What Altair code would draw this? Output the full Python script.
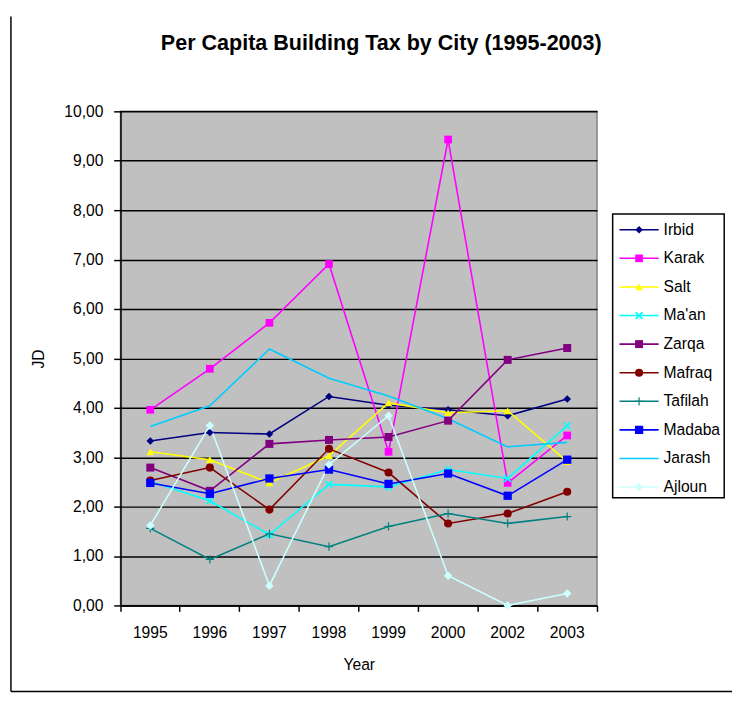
import altair as alt
import pandas as pd

years = ["1995", "1996", "1997", "1998", "1999", "2000", "2002", "2003"]
cities = ["Irbid", "Karak", "Salt", "Ma'an", "Zarqa", "Mafraq", "Tafilah", "Madaba", "Jarash", "Ajloun"]

irbid = [3.33, 3.50, 3.47, 4.23, 4.05, 3.96, 3.84, 4.18]
karak = [3.96, 4.79, 5.72, 6.91, 3.11, 9.43, 2.48, 3.44]
salt = [3.11, 2.95, 2.48, 3.03, 4.10, 3.90, 3.94, 2.91]
maan = [2.51, 2.12, 1.43, 2.45, 2.40, 2.75, 2.57, 3.64]
zarqa = [2.79, 2.32, 3.27, 3.35, 3.41, 3.74, 4.97, 5.21]
mafraq = [2.53, 2.79, 1.94, 3.17, 2.69, 1.66, 1.86, 2.30]
tafilah = [1.56, 0.93, 1.45, 1.19, 1.60, 1.86, 1.66, 1.80]
madaba = [2.48, 2.26, 2.57, 2.75, 2.46, 2.67, 2.22, 2.95]
jarash = [3.62, 4.04, 5.19, 4.60, 4.24, 3.78, 3.21, 3.30]
ajloun = [1.62, 3.64, 0.40, 2.85, 3.84, 0.60, 0.00, 0.24]

series = [irbid, karak, salt, maan, zarqa, mafraq, tafilah, madaba, jarash, ajloun]

# styles
colors = ["#000080", "#FF00FF", "#FFFF00", "#00FFFF", "#800080",
          "#800000", "#008080", "#0000FF", "#00CCFF", "#CCFFFF"]
X_PATH = "M-1,-0.7L-0.7,-1L0,-0.3L0.7,-1L1,-0.7L0.3,0L1,0.7L0.7,1L0,0.3L-0.7,1L-1,0.7L-0.3,0Z"
PLUS_PATH = ("M-0.15,-1L0.15,-1L0.15,-0.15L1,-0.15L1,0.15L0.15,0.15L0.15,1L-0.15,1"
             "L-0.15,0.15L-1,0.15L-1,-0.15L-0.15,-0.15Z")
shapes = ["diamond", "square", "triangle-up", X_PATH, "square",
          "circle", PLUS_PATH, "square", "circle", "diamond"]
sizes = [60, 75, 85, 45, 32, 80, 70, 14, 0, 60]

rows = []
for c, vals in zip(cities, series):
    for yr, v in zip(years, vals):
        rows.append({"City": c, "Year": yr, "Value": v})
df = pd.DataFrame(rows)
leg = pd.DataFrame({"City": cities})

FONT = "Liberation Sans"
W, H = 487, 505

color_enc = alt.Color("City:N", scale=alt.Scale(domain=cities, range=colors), legend=None)
shape_enc = alt.Shape("City:N", scale=alt.Scale(domain=cities, range=shapes), legend=None)
size_enc = alt.Size("City:N", scale=alt.Scale(domain=cities, range=sizes), legend=None)

x_enc = alt.X(
    "Year:O", sort=years,
    scale=alt.Scale(type="band", paddingInner=0, paddingOuter=0),
    axis=alt.Axis(title="Year", bandPosition=1, tickExtra=True,
                  labelAngle=0, grid=False, domainColor="black", domainWidth=1.5,
                  tickColor="black", tickWidth=1.5, tickSize=6, labelPadding=14,
                  labelFont=FONT, labelFontSize=16, labelColor="black",
                  titleFont=FONT, titleFontSize=16, titleFontWeight="normal",
                  titleColor="black", titlePadding=16),
)
y_enc = alt.Y(
    "Value:Q",
    scale=alt.Scale(domain=[0, 10], nice=False),
    axis=alt.Axis(title="JD", values=list(range(11)),
                  labelExpr="replace(format(datum.value, '.2f'), '.', ',')",
                  grid=True, gridColor="black", gridWidth=1.5,
                  domainColor="black", domainWidth=1.5, tickColor="black", tickWidth=1.5,
                  tickSize=7, labelPadding=11, labelFont=FONT, labelFontSize=16,
                  labelColor="black", titleFont=FONT, titleFontSize=16,
                  titleFontWeight="normal", titleColor="black", titlePadding=18),
)

base = alt.Chart(df)
lines = base.mark_line(strokeWidth=1.6).encode(x=x_enc, y=y_enc, color=color_enc, detail="City:N")
points = base.transform_filter("datum.City != 'Jarash'").mark_point(
    filled=True, opacity=1, strokeWidth=0
).encode(
    x=alt.X("Year:O", sort=years), y="Value:Q",
    color=color_enc, shape=shape_enc, size=size_enc,
)
main = alt.layer(lines, points)

# decorative chart frame (left and bottom edges)
one = alt.Chart(pd.DataFrame({"k": [0]}))
frame_left = one.mark_rule(color="black", strokeWidth=1.5).encode(
    x=alt.value(-112), y=alt.value(-97), y2=alt.value(593))
frame_bottom = one.mark_rule(color="black", strokeWidth=1.5).encode(
    x=alt.value(-112), x2=alt.value(625), y=alt.value(593))

# legend
leg_y = alt.Y("City:N", sort=cities,
              scale=alt.Scale(type="point", domain=cities, padding=0, range=[121, 384]),
              axis=None)
leg_box = one.mark_rect(fill="white", stroke="black", strokeWidth=1.5).encode(
    x=alt.value(503), x2=alt.value(617), y=alt.value(105), y2=alt.value(395))
leg_src = alt.Chart(leg)
leg_lines = leg_src.mark_rule(strokeWidth=1.6).encode(
    x=alt.value(510), x2=alt.value(550), y=leg_y, color=color_enc)
leg_pts = leg_src.transform_filter("datum.City != 'Jarash'").mark_point(
    filled=True, opacity=1, strokeWidth=0
).encode(x=alt.value(530), y=leg_y, color=color_enc, shape=shape_enc, size=size_enc)
leg_text = leg_src.mark_text(align="left", baseline="middle", font=FONT, fontSize=16,
                             color="black").encode(x=alt.value(555), y=leg_y, text="City:N")
legend = alt.layer(leg_box, leg_lines, leg_pts, leg_text)

chart = alt.layer(frame_left, frame_bottom, main, legend).resolve_scale(
    y="independent"
).properties(
    width=W, height=H,
    background="white",
    title=alt.TitleParams(
        text="Per Capita Building Tax by City (1995-2003)", font=FONT, fontSize=22,
        fontWeight="bold", color="black", anchor="middle", frame="group",
        baseline="bottom", offset=-62, dx=23),
    padding={"left": 2, "top": 0, "right": 0, "bottom": 0},
).configure_view(
    fill="#C0C0C0", stroke="#808080", strokeWidth=1.5
)

chart.save("out.html", embed_options={"renderer": "svg", "actions": False})
